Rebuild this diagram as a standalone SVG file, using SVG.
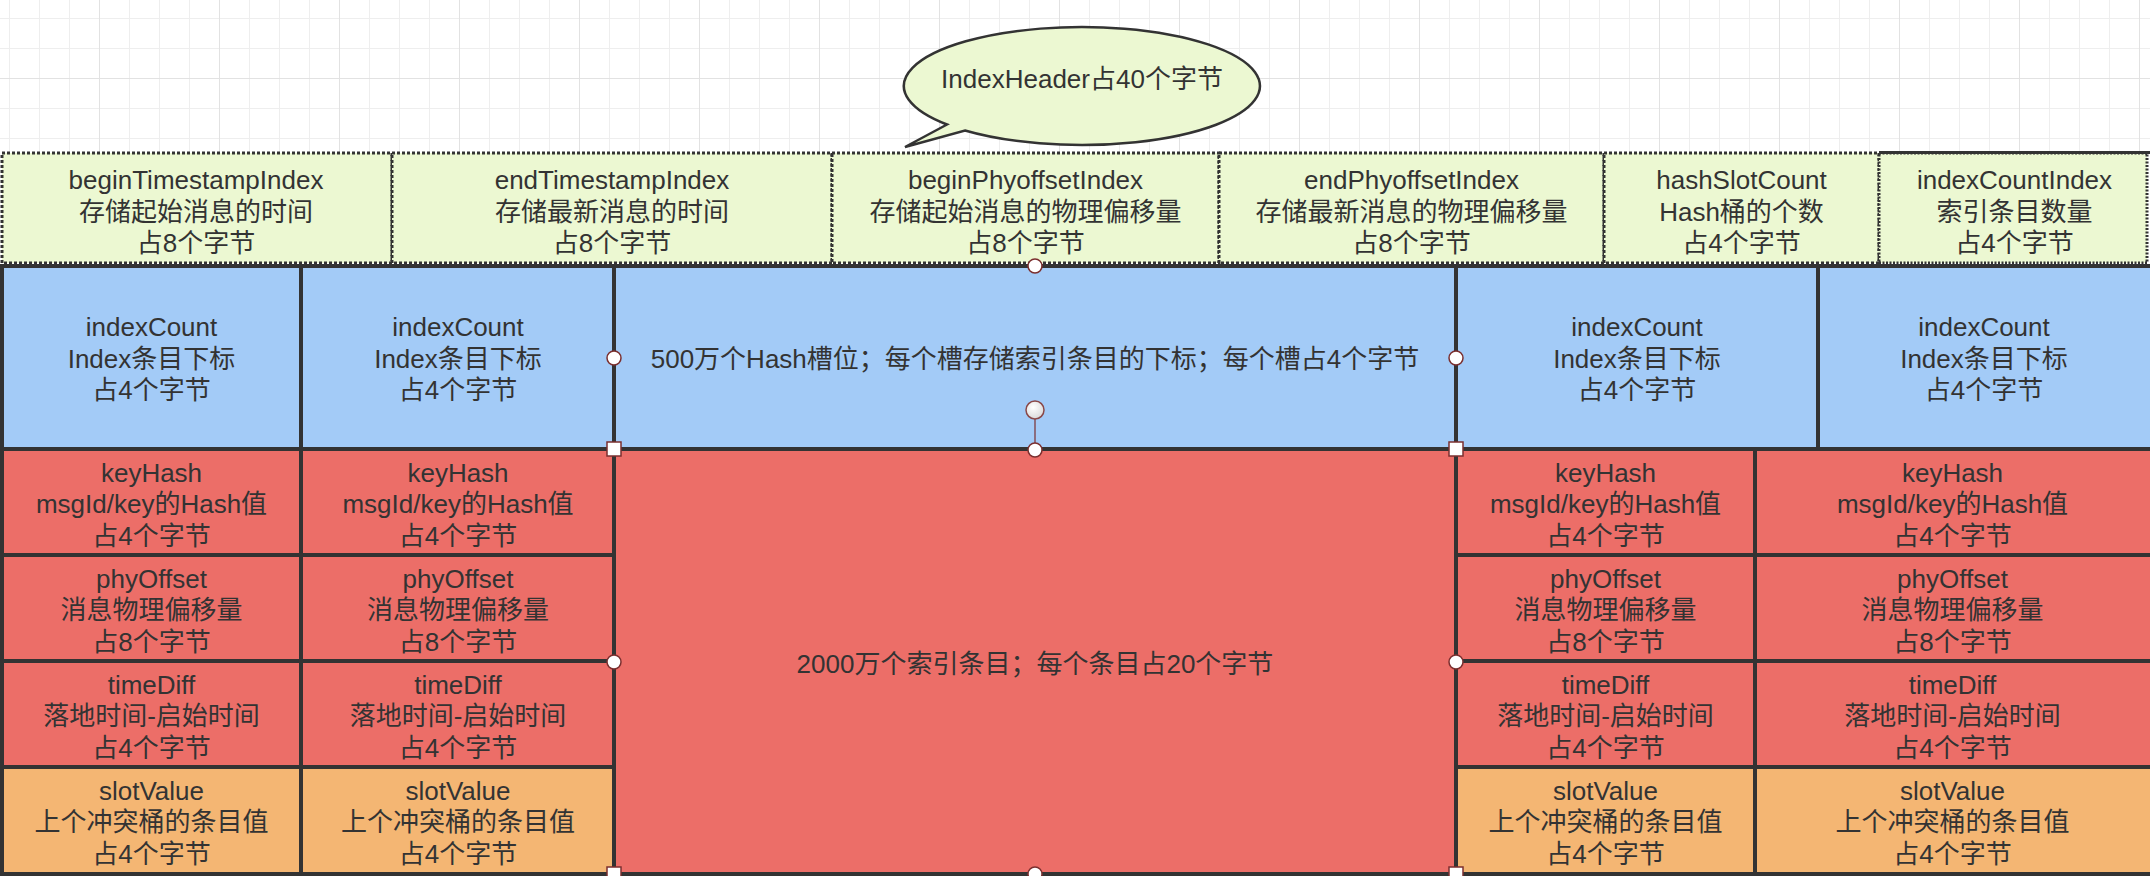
<svg xmlns="http://www.w3.org/2000/svg" width="2150" height="876" viewBox="0 0 2150 876">
  <defs>
    <pattern id="grid" x="99" y="78" width="120" height="120" patternUnits="userSpaceOnUse">
      <path d="M30.5 0V120M60.5 0V120M90.5 0V120M0 30.5H120M0 60.5H120M0 90.5H120" stroke="#eeeeee" stroke-width="1" fill="none"/>
      <path d="M0.5 0V120M0 0.5H120" stroke="#e2e2e2" stroke-width="1" fill="none"/>
    </pattern>
    <radialGradient id="rot" cx="0.4" cy="0.35" r="0.7">
      <stop offset="0" stop-color="#ffffff"/>
      <stop offset="1" stop-color="#d8d8d8"/>
    </radialGradient>
    <style>
      .t{font-family:"Liberation Sans","Noto Sans CJK SC",sans-serif;font-size:26px;fill:#333333;text-anchor:middle}
      .hdr{fill:#ecf8d2;stroke:#333333;stroke-width:3;stroke-dasharray:3 2}
      .hdr2{fill:#ecf8d2;stroke:#333333;stroke-width:3;stroke-dasharray:2 1.5}
      .blue{fill:#a3cbf7;stroke:#333333;stroke-width:4}
      .red{fill:#ec6e68;stroke:#333333;stroke-width:4}
      .org{fill:#f4b673;stroke:#333333;stroke-width:4}
      .hc{fill:#ffffff;stroke:#7b2f2f;stroke-width:1.5}
    </style>
  </defs>

  <rect x="0" y="0" width="2150" height="876" fill="#ffffff"/>
  <rect x="0" y="0" width="2150" height="160" fill="url(#grid)"/>

  <!-- Header -->
  <g id="hdr-beginTimestampIndex">
    <rect class="hdr" x="2" y="153" width="390" height="110"/>
    <text class="t" x="196" y="189">beginTimestampIndex<tspan x="196" dy="31.5">存储起始消息的时间</tspan><tspan x="196" dy="31.5">占8个字节</tspan></text>
  </g>
  <g id="hdr-endTimestampIndex">
    <rect class="hdr" x="392" y="153" width="440" height="110"/>
    <text class="t" x="612" y="189">endTimestampIndex<tspan x="612" dy="31.5">存储最新消息的时间</tspan><tspan x="612" dy="31.5">占8个字节</tspan></text>
  </g>
  <g id="hdr-beginPhyoffsetIndex">
    <rect class="hdr" x="832" y="153" width="387" height="110"/>
    <text class="t" x="1025.5" y="189">beginPhyoffsetIndex<tspan x="1025.5" dy="31.5">存储起始消息的物理偏移量</tspan><tspan x="1025.5" dy="31.5">占8个字节</tspan></text>
  </g>
  <g id="hdr-endPhyoffsetIndex">
    <rect class="hdr" x="1219" y="153" width="385" height="110"/>
    <text class="t" x="1411.5" y="189">endPhyoffsetIndex<tspan x="1411.5" dy="31.5">存储最新消息的物理偏移量</tspan><tspan x="1411.5" dy="31.5">占8个字节</tspan></text>
  </g>
  <g id="hdr-hashSlotCount">
    <rect class="hdr" x="1604" y="153" width="275" height="110"/>
    <text class="t" x="1741.5" y="189">hashSlotCount<tspan x="1741.5" dy="31.5">Hash桶的个数</tspan><tspan x="1741.5" dy="31.5">占4个字节</tspan></text>
  </g>
  <g id="hdr-indexCountIndex">
    <rect class="hdr2" x="1879" y="153" width="268" height="110"/>
    <line x1="1879" y1="152.5" x2="2150" y2="152.5" stroke="#333333" stroke-width="3"/>
    <text class="t" x="2014.5" y="189">indexCountIndex<tspan x="2014.5" dy="31.5">索引条目数量</tspan><tspan x="2014.5" dy="31.5">占4个字节</tspan></text>
  </g>

  <!-- Callout -->
  <g id="callout">
    <path d="M947 125.5 L905 148 L965 131.5 A178 59 0 1 0 947 125.5 Z" transform="translate(0,-1)" fill="#ecf8d2" stroke="#333333" stroke-width="2.5" stroke-linejoin="miter"/>
    <text class="t" x="1082" y="88">IndexHeader占40个字节</text>
  </g>

  <!-- Hash slot row -->
  <g id="slot-1">
    <rect class="blue" x="2" y="266" width="299" height="183"/>
    <text class="t" x="151.5" y="336">indexCount<tspan x="151.5" dy="31.5">Index条目下标</tspan><tspan x="151.5" dy="31.5">占4个字节</tspan></text>
  </g>
  <g id="slot-2">
    <rect class="blue" x="301" y="266" width="313" height="183"/>
    <text class="t" x="458" y="336">indexCount<tspan x="458" dy="31.5">Index条目下标</tspan><tspan x="458" dy="31.5">占4个字节</tspan></text>
  </g>
  <g id="slot-area">
    <rect class="blue" x="614" y="266" width="842" height="183"/>
    <text class="t" x="1035" y="367.5">500万个Hash槽位；每个槽存储索引条目的下标；每个槽占4个字节</text>
  </g>
  <g id="slot-3">
    <rect class="blue" x="1456" y="266" width="362" height="183"/>
    <text class="t" x="1637" y="336">indexCount<tspan x="1637" dy="31.5">Index条目下标</tspan><tspan x="1637" dy="31.5">占4个字节</tspan></text>
  </g>
  <g id="slot-4">
    <rect class="blue" x="1818" y="266" width="340" height="183"/>
    <text class="t" x="1984" y="336">indexCount<tspan x="1984" dy="31.5">Index条目下标</tspan><tspan x="1984" dy="31.5">占4个字节</tspan></text>
  </g>

  <!-- Index entries area -->
  <g id="entry-area">
    <rect class="red" x="614" y="449" width="842" height="425"/>
    <text class="t" x="1035" y="672.5">2000万个索引条目；每个条目占20个字节</text>
  </g>

  <!-- Entry column 1 -->
  <g id="entry1-keyHash">
    <rect class="red" x="2" y="449" width="299" height="106"/>
    <text class="t" x="151.5" y="481.5">keyHash<tspan x="151.5" dy="31.5">msgId/key的Hash值</tspan><tspan x="151.5" dy="31.5">占4个字节</tspan></text>
  </g>
  <g id="entry1-phyOffset">
    <rect class="red" x="2" y="555" width="299" height="106"/>
    <text class="t" x="151.5" y="587.5">phyOffset<tspan x="151.5" dy="31.5">消息物理偏移量</tspan><tspan x="151.5" dy="31.5">占8个字节</tspan></text>
  </g>
  <g id="entry1-timeDiff">
    <rect class="red" x="2" y="661" width="299" height="106"/>
    <text class="t" x="151.5" y="693.5">timeDiff<tspan x="151.5" dy="31.5">落地时间-启始时间</tspan><tspan x="151.5" dy="31.5">占4个字节</tspan></text>
  </g>
  <g id="entry1-slotValue">
    <rect class="org" x="2" y="767" width="299" height="107"/>
    <text class="t" x="151.5" y="799.5">slotValue<tspan x="151.5" dy="31.5">上个冲突桶的条目值</tspan><tspan x="151.5" dy="31.5">占4个字节</tspan></text>
  </g>

  <!-- Entry column 2 -->
  <g id="entry2-keyHash">
    <rect class="red" x="301" y="449" width="313" height="106"/>
    <text class="t" x="458" y="481.5">keyHash<tspan x="458" dy="31.5">msgId/key的Hash值</tspan><tspan x="458" dy="31.5">占4个字节</tspan></text>
  </g>
  <g id="entry2-phyOffset">
    <rect class="red" x="301" y="555" width="313" height="106"/>
    <text class="t" x="458" y="587.5">phyOffset<tspan x="458" dy="31.5">消息物理偏移量</tspan><tspan x="458" dy="31.5">占8个字节</tspan></text>
  </g>
  <g id="entry2-timeDiff">
    <rect class="red" x="301" y="661" width="313" height="106"/>
    <text class="t" x="458" y="693.5">timeDiff<tspan x="458" dy="31.5">落地时间-启始时间</tspan><tspan x="458" dy="31.5">占4个字节</tspan></text>
  </g>
  <g id="entry2-slotValue">
    <rect class="org" x="301" y="767" width="313" height="107"/>
    <text class="t" x="458" y="799.5">slotValue<tspan x="458" dy="31.5">上个冲突桶的条目值</tspan><tspan x="458" dy="31.5">占4个字节</tspan></text>
  </g>

  <!-- Entry column 3 -->
  <g id="entry3-keyHash">
    <rect class="red" x="1456" y="449" width="299" height="106"/>
    <text class="t" x="1605.5" y="481.5">keyHash<tspan x="1605.5" dy="31.5">msgId/key的Hash值</tspan><tspan x="1605.5" dy="31.5">占4个字节</tspan></text>
  </g>
  <g id="entry3-phyOffset">
    <rect class="red" x="1456" y="555" width="299" height="106"/>
    <text class="t" x="1605.5" y="587.5">phyOffset<tspan x="1605.5" dy="31.5">消息物理偏移量</tspan><tspan x="1605.5" dy="31.5">占8个字节</tspan></text>
  </g>
  <g id="entry3-timeDiff">
    <rect class="red" x="1456" y="661" width="299" height="106"/>
    <text class="t" x="1605.5" y="693.5">timeDiff<tspan x="1605.5" dy="31.5">落地时间-启始时间</tspan><tspan x="1605.5" dy="31.5">占4个字节</tspan></text>
  </g>
  <g id="entry3-slotValue">
    <rect class="org" x="1456" y="767" width="299" height="107"/>
    <text class="t" x="1605.5" y="799.5">slotValue<tspan x="1605.5" dy="31.5">上个冲突桶的条目值</tspan><tspan x="1605.5" dy="31.5">占4个字节</tspan></text>
  </g>

  <!-- Entry column 4 -->
  <g id="entry4-keyHash">
    <rect class="red" x="1755" y="449" width="403" height="106"/>
    <text class="t" x="1952.5" y="481.5">keyHash<tspan x="1952.5" dy="31.5">msgId/key的Hash值</tspan><tspan x="1952.5" dy="31.5">占4个字节</tspan></text>
  </g>
  <g id="entry4-phyOffset">
    <rect class="red" x="1755" y="555" width="403" height="106"/>
    <text class="t" x="1952.5" y="587.5">phyOffset<tspan x="1952.5" dy="31.5">消息物理偏移量</tspan><tspan x="1952.5" dy="31.5">占8个字节</tspan></text>
  </g>
  <g id="entry4-timeDiff">
    <rect class="red" x="1755" y="661" width="403" height="106"/>
    <text class="t" x="1952.5" y="693.5">timeDiff<tspan x="1952.5" dy="31.5">落地时间-启始时间</tspan><tspan x="1952.5" dy="31.5">占4个字节</tspan></text>
  </g>
  <g id="entry4-slotValue">
    <rect class="org" x="1755" y="767" width="403" height="107"/>
    <text class="t" x="1952.5" y="799.5">slotValue<tspan x="1952.5" dy="31.5">上个冲突桶的条目值</tspan><tspan x="1952.5" dy="31.5">占4个字节</tspan></text>
  </g>

  <!-- Connectors (none in this diagram) -->
  <g id="connectors"></g>

  <!-- Selection handles -->
  <g id="selection-handles">
    <line x1="1035" y1="419" x2="1035" y2="443" stroke="#7b2f2f" stroke-width="1.2"/>
    <circle cx="1035" cy="410" r="9" fill="url(#rot)" stroke="#8a4848" stroke-width="1.5"/>
    <circle class="hc" cx="1035" cy="266" r="7"/>
    <circle class="hc" cx="614" cy="358" r="7"/>
    <circle class="hc" cx="1456" cy="358" r="7"/>
    <rect class="hc" x="607" y="442" width="14" height="14"/>
    <rect class="hc" x="1449" y="442" width="14" height="14"/>
    <circle class="hc" cx="1035" cy="450" r="7"/>
    <circle class="hc" cx="614" cy="662" r="7"/>
    <circle class="hc" cx="1456" cy="662" r="7"/>
    <rect class="hc" x="607" y="867" width="14" height="14"/>
    <rect class="hc" x="1449" y="867" width="14" height="14"/>
    <circle class="hc" cx="1035" cy="874" r="7"/>
  </g>
</svg>
